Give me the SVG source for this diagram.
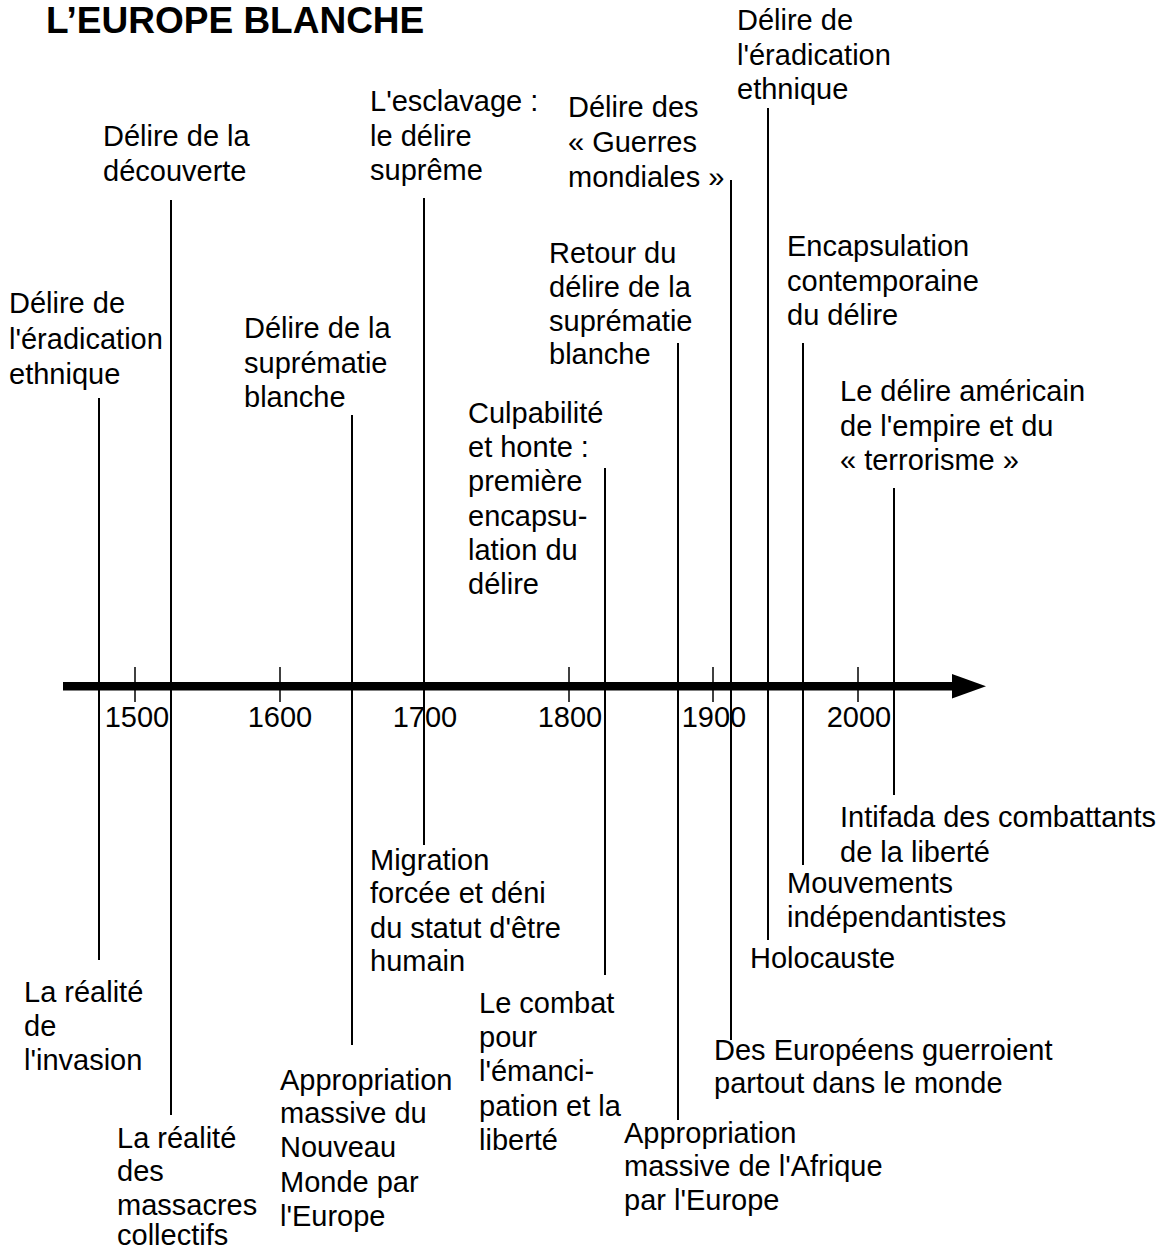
<svg xmlns="http://www.w3.org/2000/svg" width="1165" height="1251" viewBox="0 0 1165 1251">
<style>
text{font-family:"Liberation Sans",Arial,sans-serif;font-size:29px;fill:#000}
.title{font-weight:bold;font-size:37px}
.yr{text-anchor:middle}
.ln{stroke:#000;stroke-width:2;fill:none}
.tk{stroke:#000;stroke-width:1.5;fill:none}
</style>
<rect width="1165" height="1251" fill="#fff"/>
<text class="title" x="46" y="33">L’EUROPE BLANCHE</text>
<g id="axis">
<rect x="63" y="682" width="891" height="8.5" fill="#000"/>
<polygon points="952,674 986,686.3 952,698.5" fill="#000"/>
<line class="tk" x1="135" y1="667" x2="135" y2="702"/>
<line class="tk" x1="280" y1="667" x2="280" y2="702"/>
<line class="tk" x1="424" y1="667" x2="424" y2="702"/>
<line class="tk" x1="569" y1="667" x2="569" y2="702"/>
<line class="tk" x1="713" y1="667" x2="713" y2="702"/>
<line class="tk" x1="858" y1="667" x2="858" y2="702"/>
<text class="yr" x="137" y="727">1500</text>
<text class="yr" x="280" y="727">1600</text>
<text class="yr" x="425" y="727">1700</text>
<text class="yr" x="570" y="727">1800</text>
<text class="yr" x="714" y="727">1900</text>
<text class="yr" x="859" y="727">2000</text>
</g>
<g id="connectors">
<line class="ln" x1="99" y1="398" x2="99" y2="960"/>
<line class="ln" x1="171" y1="200" x2="171" y2="1115"/>
<line class="ln" x1="352" y1="415" x2="352" y2="1045"/>
<line class="ln" x1="424" y1="198" x2="424" y2="845"/>
<line class="ln" x1="605" y1="468" x2="605" y2="975"/>
<line class="ln" x1="678" y1="343" x2="678" y2="1120"/>
<line class="ln" x1="731" y1="180" x2="731" y2="1040"/>
<line class="ln" x1="768" y1="108" x2="768" y2="940"/>
<line class="ln" x1="803" y1="343" x2="803" y2="865"/>
<line class="ln" x1="894" y1="488" x2="894" y2="795"/>
</g>
<g id="n1"><text x="9" y="313">Délire de</text><text x="9" y="349">l'éradication</text><text x="9" y="384">ethnique</text></g>
<g id="n2"><text x="103" y="146">Délire de la</text><text x="103" y="181">découverte</text></g>
<g id="n3"><text x="244" y="338">Délire de la</text><text x="244" y="373">suprématie</text><text x="244" y="407">blanche</text></g>
<g id="n4"><text x="370" y="111">L'esclavage :</text><text x="370" y="146">le délire</text><text x="370" y="180">suprême</text></g>
<g id="n5"><text x="568" y="117">Délire des</text><text x="568" y="152">« Guerres</text><text x="568" y="187">mondiales »</text></g>
<g id="n6"><text x="737" y="30">Délire de</text><text x="737" y="65">l'éradication</text><text x="737" y="99">ethnique</text></g>
<g id="n7"><text x="549" y="263">Retour du</text><text x="549" y="297">délire de la</text><text x="549" y="331">suprématie</text><text x="549" y="364">blanche</text></g>
<g id="n8"><text x="787" y="256">Encapsulation</text><text x="787" y="291">contemporaine</text><text x="787" y="325">du délire</text></g>
<g id="n9"><text x="840" y="401">Le délire américain</text><text x="840" y="436">de l'empire et du</text><text x="840" y="470">« terrorisme »</text></g>
<g id="n10"><text x="468" y="423">Culpabilité</text><text x="468" y="457">et honte :</text><text x="468" y="491">première</text><text x="468" y="526">encapsu-</text><text x="468" y="560">lation du</text><text x="468" y="594">délire</text></g>
<g id="n11"><text x="840" y="827">Intifada des combattants</text><text x="840" y="862">de la liberté</text></g>
<g id="n12"><text x="787" y="893">Mouvements</text><text x="787" y="927">indépendantistes</text></g>
<g id="n13"><text x="750" y="968">Holocauste</text></g>
<g id="n14"><text x="714" y="1060">Des Européens guerroient</text><text x="714" y="1093">partout dans le monde</text></g>
<g id="n15"><text x="624" y="1143">Appropriation</text><text x="624" y="1176">massive de l'Afrique</text><text x="624" y="1210">par l'Europe</text></g>
<g id="n16"><text x="479" y="1013">Le combat</text><text x="479" y="1047">pour</text><text x="479" y="1081">l'émanci-</text><text x="479" y="1116">pation et la</text><text x="479" y="1150">liberté</text></g>
<g id="n17"><text x="370" y="870">Migration</text><text x="370" y="903">forcée et déni</text><text x="370" y="938">du statut d'être</text><text x="370" y="971">humain</text></g>
<g id="n18"><text x="280" y="1090">Appropriation</text><text x="280" y="1123">massive du</text><text x="280" y="1157">Nouveau</text><text x="280" y="1192">Monde par</text><text x="280" y="1226">l'Europe</text></g>
<g id="n19"><text x="117" y="1148">La réalité</text><text x="117" y="1181">des</text><text x="117" y="1215">massacres</text><text x="117" y="1245">collectifs</text></g>
<g id="n20"><text x="24" y="1002">La réalité</text><text x="24" y="1036">de</text><text x="24" y="1070">l'invasion</text></g>
</svg>
